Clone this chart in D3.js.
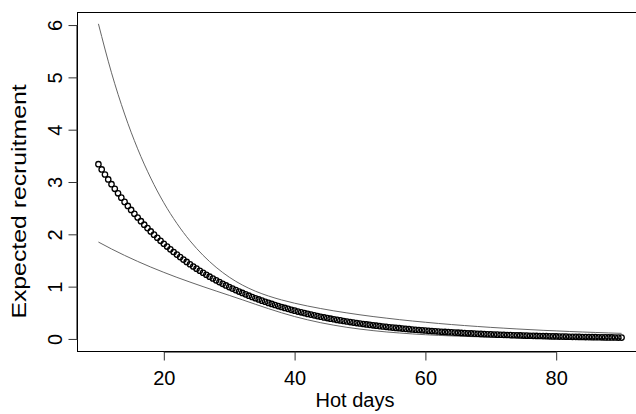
<!DOCTYPE html>
<html><head><meta charset="utf-8">
<script src="https://cdn.jsdelivr.net/npm/d3@7"></script>
<style>
html,body{margin:0;padding:0;background:#fff;}
text{font-family:"Liberation Sans",Arial,sans-serif;fill:#000;}
</style></head>
<body><svg id="chart" width="636" height="414"></svg>
<script>
// ---- data ----
const hotDays = [10,10.5,11,11.5,12,12.5,13,13.5,14,14.5,15,15.5,16,16.5,17,17.5,18,18.5,19,19.5,
20,20.5,21,21.5,22,22.5,23,23.5,24,24.5,25,25.5,26,26.5,27,27.5,28,28.5,29,29.5,
30,30.5,31,31.5,32,32.5,33,33.5,34,34.5,35,35.5,36,36.5,37,37.5,38,38.5,39,39.5,
40,40.5,41,41.5,42,42.5,43,43.5,44,44.5,45,45.5,46,46.5,47,47.5,48,48.5,49,49.5,
50,50.5,51,51.5,52,52.5,53,53.5,54,54.5,55,55.5,56,56.5,57,57.5,58,58.5,59,59.5,
60,60.5,61,61.5,62,62.5,63,63.5,64,64.5,65,65.5,66,66.5,67,67.5,68,68.5,69,69.5,
70,70.5,71,71.5,72,72.5,73,73.5,74,74.5,75,75.5,76,76.5,77,77.5,78,78.5,79,79.5,
80,80.5,81,81.5,82,82.5,83,83.5,84,84.5,85,85.5,86,86.5,87,87.5,88,88.5,89,89.5,90];
const expected = [
3.340,3.240,3.143,3.049,2.958,2.870,2.784,2.701,2.620,2.542,
2.466,2.392,2.321,2.251,2.184,2.119,2.055,1.994,1.934,1.876,
1.820,1.766,1.713,1.662,1.612,1.564,1.517,1.472,1.428,1.385,
1.344,1.304,1.265,1.227,1.190,1.155,1.120,1.087,1.054,1.023,
0.992,0.962,0.934,0.906,0.879,0.852,0.827,0.802,0.778,0.755,
0.732,0.711,0.689,0.669,0.649,0.629,0.611,0.592,0.575,0.557,
0.541,0.524,0.509,0.494,0.479,0.465,0.451,0.437,0.424,0.411,
0.399,0.387,0.376,0.364,0.354,0.343,0.333,0.323,0.313,0.304,
0.295,0.286,0.277,0.269,0.261,0.253,0.246,0.238,0.231,0.224,
0.218,0.211,0.205,0.199,0.193,0.187,0.181,0.176,0.171,0.166,
0.161,0.156,0.151,0.147,0.142,0.138,0.134,0.130,0.126,0.122,
0.119,0.115,0.112,0.108,0.105,0.102,0.099,0.096,0.093,0.090,
0.088,0.085,0.082,0.080,0.078,0.075,0.073,0.071,0.069,0.067,
0.065,0.063,0.061,0.059,0.057,0.056,0.054,0.052,0.051,0.049,
0.048,0.046,0.045,0.044,0.042,0.041,0.040,0.039,0.037,0.036,
0.035,0.034,0.033,0.032,0.031,0.030,0.029,0.029,0.028,0.027,
0.026];
const lineDays = [10,12,14,16,18,20,22,24,26,28,30,32,34,36,38,40,42,44,46,48,50,
52,54,56,58,60,62,64,66,68,70,72,74,76,78,80,82,84,86,88,90];
const upperCI = [6.023,5.088,4.299,3.634,3.075,2.603,2.208,1.876,1.599,1.369,1.181,
1.031,0.913,0.821,0.746,0.683,0.629,0.581,0.537,0.498,0.461,0.428,0.398,0.369,0.343,
0.319,0.296,0.275,0.256,0.238,0.221,0.206,0.191,0.178,0.165,0.154,0.143,0.133,0.124,0.115,0.107];
const lowerCI = [1.852,1.720,1.597,1.482,1.374,1.273,1.177,1.087,1.000,0.916,0.833,
0.749,0.663,0.579,0.500,0.428,0.365,0.310,0.263,0.222,0.188,0.159,0.134,0.114,0.096,
0.081,0.068,0.058,0.049,0.041,0.035,0.029,0.025,0.021,0.018,0.015,0.013,0.011,0.009,0.008,0.006];
const xTicks = [20,40,60,80];
const yTicks = [0,1,2,3,4,5,6];
const xLabel = "Hot days";
const yLabel = "Expected recruitment";

// ---- layout ----
const L = 77.5, R = 642.5, T = 12.5, B = 351.5;
const svg = d3.select("#chart");
svg.append("rect").attr("width",636).attr("height",414).attr("fill","#fff");

const x = d3.scaleLinear().domain([6.8, 93.2]).range([L, R]);
const y = d3.scaleLinear().domain([-0.24, 6.24]).range([B, T]);

// box
svg.append("rect").attr("x",L).attr("y",T).attr("width",R-L).attr("height",B-T)
  .attr("fill","none").attr("stroke","#000").attr("stroke-width",1);

// x axis
const xa = svg.append("g").attr("transform",`translate(0,${B})`)
  .call(d3.axisBottom(x).tickValues(xTicks).tickFormat(d3.format("d")).tickSize(9).tickSizeOuter(0));
xa.select(".domain").attr("d",`M${x(20)},0.5H${x(80)}`).attr("stroke","#000");
xa.selectAll(".tick line").attr("stroke","#333");
xa.selectAll(".tick text").attr("font-size",20).attr("dy",null).attr("y",33)
  .attr("font-family","Liberation Sans, Arial, sans-serif").attr("fill","#000");

// y axis
const ya = svg.append("g").attr("transform",`translate(${L},0)`)
  .call(d3.axisLeft(y).tickValues(yTicks).tickFormat(d3.format("d")).tickSize(9).tickSizeOuter(0));
ya.select(".domain").attr("d",`M-0.5,${y(0)}V${y(6)}`).attr("stroke","#000");
ya.selectAll(".tick line").attr("stroke","#333");
ya.selectAll(".tick text")
  .attr("font-size",20).attr("font-family","Liberation Sans, Arial, sans-serif").attr("fill","#000")
  .attr("x",null).attr("dy",null).attr("text-anchor","middle")
  .attr("transform","translate(-16,0) rotate(-90)");

// axis titles
svg.append("text").attr("x",(L+R)/2 - 5).attr("y",407).attr("text-anchor","middle")
  .attr("font-size",20).text(xLabel);
svg.append("text").attr("transform","translate(25.5,201.5) rotate(-90) scale(1.24,1)")
  .attr("text-anchor","middle").attr("font-size",20).attr("fill","#000").text(yLabel);

// CI lines
const ln = (vals) => d3.line().x((d,i)=>x(lineDays[i])).y((d)=>y(d)).curve(d3.curveMonotoneX)(vals);
[upperCI, lowerCI].forEach(v => {
  svg.append("path").attr("d", ln(v)).attr("fill","none")
    .attr("stroke","#666").attr("stroke-width",1);
});

// points
svg.append("g").selectAll("circle").data(expected).join("circle")
  .attr("cx",(d,i)=>x(hotDays[i])).attr("cy",d=>y(d)).attr("r",2.7)
  .attr("fill","none").attr("stroke","#000").attr("stroke-width",1.3);
</script></body></html>
